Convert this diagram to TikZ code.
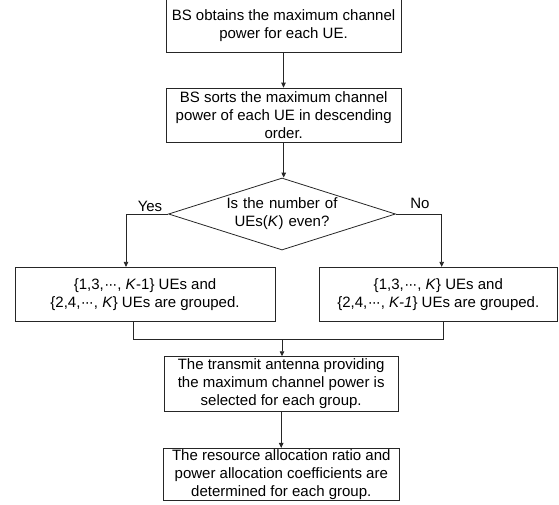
\documentclass[tikz,border=0pt]{standalone}
\usepackage{fontspec}
\setmainfont{Liberation Sans}
\usetikzlibrary{shapes.geometric,arrows.meta,calc}
\newcommand{\mydots}{\kern0.5pt·\kern-1pt·\kern-1pt·}
\begin{document}
\begin{tikzpicture}[x=1pt,y=-1pt,
  every node/.style={font=\fontsize{15}{18}\selectfont, text=black},
  box/.style={draw=black!85, line width=0.8pt, rectangle, inner sep=0pt, align=center},
  dia/.style={draw=black!85, line width=0.8pt, diamond, aspect=3.15, inner sep=0pt, align=center, minimum width=227pt, minimum height=72pt},
  lbl/.style={inner sep=0pt},
  conn/.style={draw=black!85, line width=0.8pt},
  arr/.style={conn, -{Triangle[length=5pt,width=4.5pt]}}]
\useasboundingbox (0,0) rectangle (559,504);
\node[box, minimum width=235pt, minimum height=53pt] (b1) at (283.5,25.5)
  {BS obtains the maximum channel\\power for each UE.};
\node[box, minimum width=235.5pt, minimum height=54.3pt] (b2) at (283.7,115.2)
  {BS sorts the maximum channel\\power of each UE in descending\\order.};
\node[dia, text width=125pt] (d) at (282,214) {Is the number of\\UEs(\textit{K}) even?};
\node[box, minimum width=260pt, minimum height=54.4pt] (b3) at (145,294.5)
  {\{1,3,\mydots, \textit{K}-1\} UEs and\\\{2,4,\mydots, \textit{K}\} UEs are grouped.};
\node[box, minimum width=238pt, minimum height=54.4pt] (b4) at (438.3,294.5)
  {\{1,3,\mydots, \textit{K}\} UEs and\\\{2,4,\mydots, \textit{K-1}\} UEs are grouped.};
\node[box, minimum width=234.3pt, minimum height=54.3pt] (b5) at (281.2,383.8)
  {The transmit antenna providing\\the maximum channel power is\\selected for each group.};
\node[box, minimum width=236pt, minimum height=51.7pt] (b6) at (281.3,474.2)
  {The resource allocation ratio and\\power allocation coefficients are\\determined for each group.};
\node[lbl] (yes) at (150,206) {Yes};
\node[lbl] (no) at (420,203) {No};
\coordinate (m) at (282,339.3);
\draw[arr] (b1.south) -- (b1.south |- b2.north);
\draw[arr] (b2.south) -- (b2.south |- d.north);
\draw[arr] (d.west) -| ([xshift=-19pt]b3.north);
\draw[arr] (d.east) -| ([xshift=3.4pt]b4.north);
\draw[conn] ([xshift=-12pt]b3.south) |- (m);
\draw[conn] ([xshift=5pt]b4.south) |- (m);
\draw[arr] (m) -- (m |- b5.north);
\draw[arr] (b5.south) -- (b5.south |- b6.north);
\end{tikzpicture}
\end{document}
